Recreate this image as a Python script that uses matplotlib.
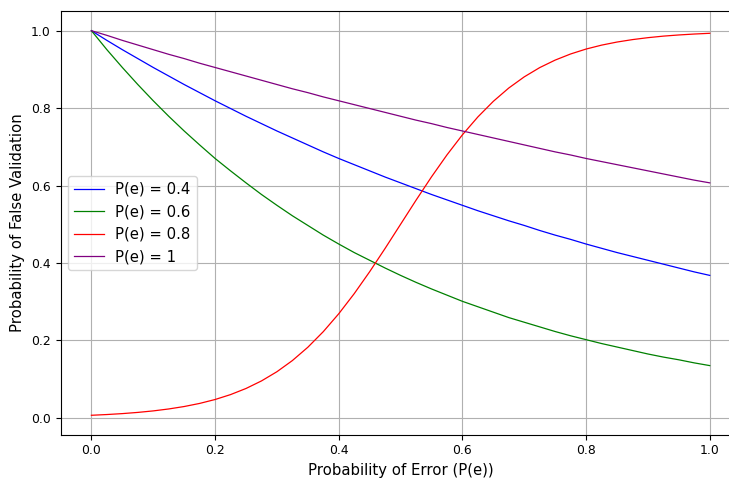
import matplotlib
import matplotlib.pyplot as plt

matplotlib.use('Agg')

# значення (крок 0.025)
p_error = [0.000, 0.025, 0.050, 0.075, 0.100, 0.125, 0.150, 0.175, 0.200, 0.225,
           0.250, 0.275, 0.300, 0.325, 0.350, 0.375, 0.400, 0.425, 0.450, 0.475,
           0.500, 0.525, 0.550, 0.575, 0.600, 0.625, 0.650, 0.675, 0.700, 0.725,
           0.750, 0.775, 0.800, 0.825, 0.850, 0.875, 0.900, 0.925, 0.950, 0.975,
           1.000]

fv_04 = [1.000, 0.975, 0.951, 0.928, 0.905, 0.883, 0.861, 0.840, 0.819, 0.799,
         0.779, 0.760, 0.741, 0.723, 0.705, 0.687, 0.670, 0.654, 0.638, 0.622,
         0.607, 0.592, 0.577, 0.563, 0.549, 0.535, 0.522, 0.509, 0.497, 0.484,
         0.472, 0.461, 0.449, 0.438, 0.427, 0.417, 0.407, 0.397, 0.387, 0.377,
         0.368]
fv_06 = [1.000, 0.951, 0.905, 0.861, 0.819, 0.779, 0.741, 0.705, 0.670, 0.638,
         0.607, 0.577, 0.549, 0.522, 0.497, 0.472, 0.449, 0.427, 0.407, 0.387,
         0.368, 0.350, 0.333, 0.317, 0.301, 0.287, 0.273, 0.259, 0.247, 0.235,
         0.223, 0.212, 0.202, 0.192, 0.183, 0.174, 0.165, 0.157, 0.150, 0.142,
         0.135]
fv_08 = [0.0067, 0.0086, 0.0110, 0.0141, 0.0180, 0.0230, 0.0293, 0.0373, 0.0474, 0.0601,
         0.0759, 0.0954, 0.1192, 0.1480, 0.1824, 0.2227, 0.2689, 0.3208, 0.3775, 0.4378,
         0.5000, 0.5622, 0.6225, 0.6792, 0.7311, 0.7773, 0.8176, 0.8520, 0.8808, 0.9047,
         0.9241, 0.9399, 0.9526, 0.9627, 0.9707, 0.9770, 0.9820, 0.9860, 0.9890, 0.9914,
         0.9933]
fv_1 = [1.000, 0.988, 0.975, 0.963, 0.951, 0.939, 0.928, 0.916, 0.905, 0.894,
        0.883, 0.872, 0.861, 0.850, 0.840, 0.829, 0.819, 0.809, 0.799, 0.789,
        0.779, 0.769, 0.760, 0.750, 0.741, 0.732, 0.723, 0.714, 0.705, 0.696,
        0.687, 0.679, 0.670, 0.662, 0.654, 0.646, 0.638, 0.630, 0.622, 0.614,
        0.607]

series = [
    ('P(e) = 0.4', fv_04, 'blue'),
    ('P(e) = 0.6', fv_06, 'green'),
    ('P(e) = 0.8', fv_08, 'red'),
    ('P(e) = 1', fv_1, 'purple'),
]

fig, ax = plt.subplots(figsize=(7.29, 4.78), dpi=100)

for label, values, color in series:
    ax.plot(p_error, values, color=color, linewidth=0.9, label=label)

ax.set_xlabel('Probability of Error (P(e))', fontsize=10.7)
ax.set_ylabel('Probability of False Validation', fontsize=10.7)
ax.tick_params(labelsize=8.9)
ax.grid(True)
ax.legend(loc='center left', fontsize=10.7)

# права рамка в оригіналі обрізана краєм картинки
plt.subplots_adjust(left=0.083, right=1.016, top=0.976, bottom=0.091)
plt.savefig('out.png')
plt.close()
